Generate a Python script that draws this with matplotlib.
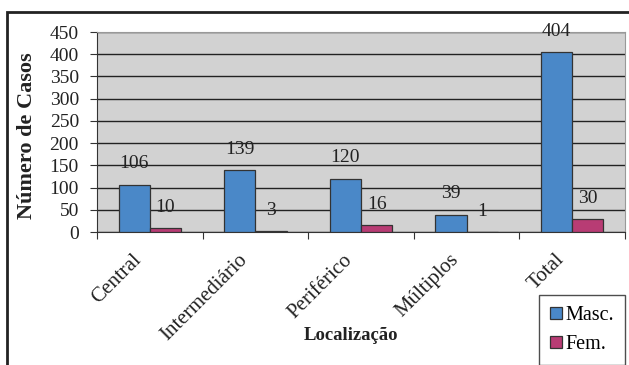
import matplotlib
matplotlib.use("Agg")
import matplotlib.pyplot as plt
import matplotlib.transforms as mtransforms
import numpy as np
from matplotlib.patches import Rectangle

categories = ["Central", "Intermediário", "Periférico", "Múltiplos", "Total"]
masc = [106, 139, 120, 39, 404]
fem = [10, 3, 16, 1, 30]
series_names = ["Masc.", "Fem."]
yticks = [0, 50, 100, 150, 200, 250, 300, 350, 400, 450]

plt.rcParams['font.family'] = ['Liberation Serif', 'DejaVu Serif']

W, H = 629, 365
fig = plt.figure(figsize=(W/100, H/100), dpi=100)
fig.patch.set_facecolor('white')

# outer frame
fig.patches.append(Rectangle((7/W, -0.1), 1.2, (H-12)/H + 0.1, transform=fig.transFigure,
                             fill=False, edgecolor='#222222', linewidth=2.0))

ax = fig.add_axes([97/W, 1-232/H, (625-97)/W, (232-32)/H])
ax.set_facecolor('#d2d2d2')

x = np.arange(len(categories))
bw = 0.295
blue = '#4a88c8'
pink = '#b83c74'
ax.bar(x - bw/2, masc, bw, color=blue, edgecolor='#333333', linewidth=0.9, zorder=3, label=series_names[0])
ax.bar(x + bw/2, fem, bw, color=pink, edgecolor='#333333', linewidth=0.9, zorder=3, label=series_names[1])

for xi, v in zip(x, masc):
    ax.annotate(str(v), (xi - bw/2, v), xytext=(0, 21*0.72), textcoords='offset points',
                ha='center', va='center', fontsize=14, color='#222222', zorder=4)
for xi, v in zip(x, fem):
    ax.annotate(str(v), (xi + bw/2, v), xytext=(0, 20*0.72), textcoords='offset points',
                ha='center', va='center', fontsize=14, color='#222222', zorder=4)

ax.set_xlim(-0.5, len(categories) - 0.5)
ax.set_ylim(0, 450)
ax.set_yticks(yticks)
ax.set_yticklabels([str(t) for t in yticks], fontsize=14, color='#222222')
ax.yaxis.grid(True, color='#222222', linewidth=1.0, zorder=1)
ax.set_axisbelow(True)

ax.set_xticks(np.arange(len(categories) + 1) - 0.5)
ax.set_xticklabels([])
ax.tick_params(axis='x', length=5, direction='out', color='#333333')
ax.tick_params(axis='y', length=5, direction='out', color='#333333', pad=8)

base = ax.get_xaxis_transform()
for i, c in enumerate(categories):
    tr = mtransforms.offset_copy(base, fig=fig, x=-11, y=-25, units='dots')
    ax.text(i, 0, c, transform=tr, rotation=45, ha='right', va='center',
            fontsize=15, rotation_mode='anchor', color='#222222')

ax.spines['left'].set_color('#333333')
ax.spines['bottom'].set_color('#333333')
ax.spines['top'].set_color('#999999')
ax.spines['right'].set_color('#999999')

fig.text(27/W, 1-136/H, "Número de Casos", rotation=90, ha='center', va='center',
         fontsize=16, fontweight='bold', color='#222222')
fig.text(351/W, 1-336/H, "Localização", ha='center', va='center',
         fontsize=13.5, fontweight='bold', color='#222222')

leg = ax.legend(loc='upper left', bbox_to_anchor=(539/W, 1-295/H), bbox_transform=fig.transFigure,
                fontsize=14.5, frameon=True, fancybox=False, edgecolor='#222222',
                handlelength=0.6, handleheight=0.6, handletextpad=0.15, borderpad=0.55,
                labelspacing=0.5, borderaxespad=0)
leg.get_frame().set_linewidth(1.0)

fig.savefig("out.png", dpi=100)
